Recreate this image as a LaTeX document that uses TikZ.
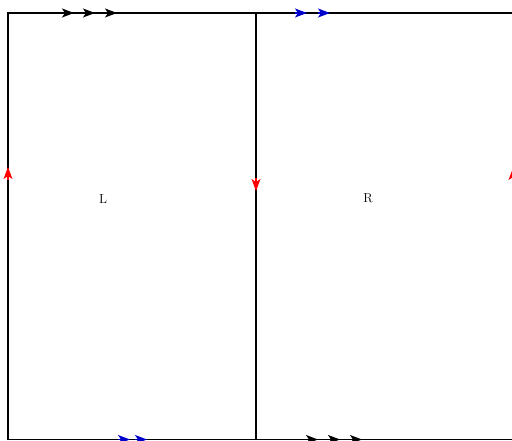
\documentclass[tikz,border=0pt]{standalone}
\usetikzlibrary{arrows.meta}
\begin{document}
\begin{tikzpicture}[x=1pt,y=-1pt,
  edge/.style={line width=1.3pt,black},
  tipk/.style={-{Stealth[length=12pt,width=9pt,inset=3pt]},line width=1.3pt},
  lab/.style={font=\fontsize{13}{15}\selectfont,inner sep=0pt}]
\useasboundingbox (0,0) rectangle (512,441);
\clip (0,0) rectangle (512,440.2);
% corners
\coordinate (TL) at (8,13);
\coordinate (TM) at (256,13);
\coordinate (TR) at (513,13);
\coordinate (BL) at (8,439.5);
\coordinate (BM) at (256,439.5);
\coordinate (BR) at (513,439.5);
\draw[edge] (TL) -- (TR) -- (BR) -- (BL) -- cycle;
\draw[edge] (TM) -- (BM);
% top black triple
\foreach \t in {74,95,117} \draw[tipk,black] (\t-12,13) -- (\t,13);
% top blue double
\foreach \t in {307,330} \draw[tipk,blue!80!black] (\t-12,13) -- (\t,13);
% bottom blue double
\foreach \t in {130,147} \draw[tipk,blue!80!black] (\t-12,439.5) -- (\t,439.5);
% bottom black triple
\foreach \t in {318,340,362} \draw[tipk,black] (\t-12,439.5) -- (\t,439.5);
% red verticals
\draw[tipk,red] (8,180) -- (8,167);
\draw[tipk,red] (256,178) -- (256,191);
\draw[tipk,red] (513,181) -- (513,168);
% labels
\node[lab] (L) at (103,199) {L};
\node[lab] (R) at (368,198) {R};
\end{tikzpicture}
\end{document}
